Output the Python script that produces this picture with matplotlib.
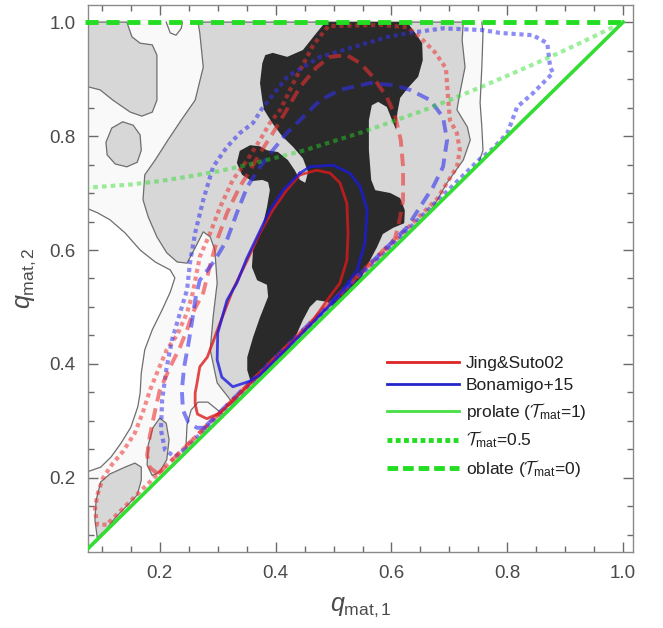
import matplotlib
matplotlib.use("Agg")
import matplotlib.pyplot as plt
from matplotlib.ticker import MultipleLocator, FixedLocator
from matplotlib.lines import Line2D

plt.rcParams['font.family'] = ['Liberation Sans', 'DejaVu Sans']
plt.rcParams['mathtext.fontset'] = 'custom'
plt.rcParams['mathtext.rm'] = 'Liberation Sans'
plt.rcParams['mathtext.it'] = 'Liberation Sans:italic'
plt.rcParams['mathtext.cal'] = 'cmsy10'

# ---------------- data (q_mat,1 , q_mat,2) ----------------
# region inside the outermost contour (near white)
outer_fill_q1 = [0.07, 0.756, 0.758, 0.756, 0.753, 0.756, 0.758, 0.752, 0.07, 0.07,
                 0.098, 0.116, 0.133, 0.150, 0.162, 0.166, 0.168, 0.174, 0.187, 0.204,
                 0.218, 0.226, 0.218, 0.192, 0.166, 0.140, 0.114, 0.093, 0.07]
outer_fill_q2 = [1.0, 1.0, 0.981, 0.921, 0.858, 0.816, 0.775, 0.757, 0.07, 0.209,
                 0.219, 0.237, 0.261, 0.289, 0.325, 0.349, 0.384, 0.425, 0.460, 0.495,
                 0.526, 0.551, 0.565, 0.579, 0.600, 0.630, 0.653, 0.665, 0.675]
outer_left_q1 = [0.07, 0.098, 0.116, 0.133, 0.150, 0.162, 0.166, 0.168, 0.174, 0.187, 0.204,
                 0.218, 0.226, 0.218, 0.192, 0.166, 0.140, 0.114, 0.093, 0.07]
outer_left_q2 = [0.209, 0.219, 0.237, 0.261, 0.289, 0.325, 0.349, 0.384, 0.425, 0.460, 0.495,
                 0.526, 0.551, 0.565, 0.579, 0.600, 0.630, 0.653, 0.665, 0.675]
outer_right_q1 = [0.756, 0.758, 0.756, 0.753, 0.756, 0.758, 0.752]
outer_right_q2 = [1.0, 0.981, 0.921, 0.858, 0.816, 0.775, 0.757]
notch_q1 = [0.211, 0.218, 0.228, 0.237, 0.239]
notch_q2 = [1.0, 0.981, 0.977, 0.989, 1.0]
lobe_q1 = [0.245, 0.247, 0.254, 0.266, 0.283, 0.300, 0.311]
lobe_q2 = [0.252, 0.293, 0.319, 0.333, 0.333, 0.319, 0.311]

# light grey regions
grey_main_q1 = [0.266, 0.724, 0.722, 0.727, 0.718, 0.713, 0.731, 0.736, 0.724, 0.696, 0.679,
                0.667, 0.340, 0.325, 0.318, 0.304, 0.299, 0.287, 0.292, 0.299, 0.295,
                0.287, 0.275, 0.261, 0.247, 0.230, 0.212, 0.195, 0.180, 0.171, 0.174,
                0.192, 0.214, 0.237, 0.261, 0.275, 0.269]
grey_main_q2 = [1.0, 1.0, 0.968, 0.921, 0.875, 0.846, 0.816, 0.793, 0.758, 0.718, 0.688,
                0.667, 0.340, 0.332, 0.342, 0.360, 0.367, 0.425, 0.482, 0.542, 0.600,
                0.623, 0.632, 0.604, 0.577, 0.579, 0.595, 0.623, 0.658, 0.688, 0.732,
                0.758, 0.793, 0.828, 0.863, 0.921, 0.981]
grey_tl_q1 = [0.07, 0.143, 0.152, 0.166, 0.187, 0.195, 0.195, 0.187, 0.169, 0.149, 0.119, 0.097, 0.07]
grey_tl_q2 = [1.0, 1.0, 0.974, 0.963, 0.960, 0.942, 0.863, 0.842, 0.835, 0.842, 0.863, 0.881, 0.888]
grey_oval_q1 = [0.136, 0.154, 0.166, 0.168, 0.161, 0.143, 0.123, 0.109, 0.107, 0.117]
grey_oval_q2 = [0.825, 0.819, 0.802, 0.775, 0.754, 0.746, 0.751, 0.767, 0.789, 0.814]
grey_bl_q1 = [0.092, 0.088, 0.090, 0.098, 0.114, 0.140, 0.157, 0.168, 0.168, 0.161, 0.145, 0.123, 0.107]
grey_bl_q2 = [0.095, 0.126, 0.161, 0.193, 0.207, 0.219, 0.226, 0.219, 0.196, 0.170, 0.153, 0.130, 0.109]
grey_small_q1 = [0.200, 0.211, 0.216, 0.212, 0.200, 0.187, 0.178, 0.180, 0.188]
grey_small_q2 = [0.305, 0.296, 0.267, 0.232, 0.211, 0.204, 0.223, 0.258, 0.288]

# dark (highest density) region
dark_q1 = [0.486, 0.627, 0.641, 0.653, 0.654, 0.646, 0.628, 0.615, 0.610, 0.608, 0.601, 0.592,
           0.577, 0.566, 0.561, 0.561, 0.565, 0.572, 0.598, 0.615, 0.623, 0.622, 0.603, 0.585,
           0.575, 0.563, 0.546, 0.520, 0.499, 0.489, 0.471, 0.459, 0.447, 0.437, 0.425, 0.402,
           0.385, 0.364, 0.356, 0.351, 0.351, 0.361, 0.373, 0.387, 0.385, 0.368, 0.359, 0.361,
           0.377, 0.385, 0.390, 0.387, 0.377, 0.359, 0.342, 0.333, 0.338, 0.356, 0.373, 0.385,
           0.404, 0.421, 0.433, 0.442, 0.451, 0.456, 0.447, 0.430, 0.411, 0.394, 0.380, 0.377,
           0.373, 0.377, 0.382, 0.395, 0.420, 0.447, 0.465, 0.477]
dark_q2 = [1.0, 1.0, 0.981, 0.963, 0.933, 0.904, 0.884, 0.867, 0.840, 0.811, 0.828, 0.851,
           0.860, 0.854, 0.828, 0.775, 0.723, 0.705, 0.700, 0.691, 0.670, 0.647, 0.639, 0.628,
           0.605, 0.582, 0.548, 0.522, 0.501, 0.509, 0.512, 0.500, 0.477, 0.454, 0.428, 0.407,
           0.389, 0.370, 0.372, 0.389, 0.412, 0.447, 0.482, 0.518, 0.539, 0.547, 0.570, 0.600,
           0.640, 0.675, 0.705, 0.719, 0.723, 0.721, 0.732, 0.753, 0.774, 0.784, 0.782, 0.775,
           0.772, 0.758, 0.740, 0.723, 0.718, 0.737, 0.761, 0.781, 0.800, 0.823, 0.846, 0.863,
           0.893, 0.928, 0.942, 0.946, 0.939, 0.951, 0.974, 0.989]

# Jing & Suto 2002 contours
js_solid_q1 = [0.442, 0.471, 0.494, 0.511, 0.523, 0.525, 0.523, 0.511, 0.489, 0.460, 0.400,
               0.330, 0.304, 0.281, 0.265, 0.261, 0.261, 0.264, 0.269, 0.282, 0.304, 0.326,
               0.351, 0.373, 0.395, 0.419, 0.442]
js_solid_q2 = [0.732, 0.740, 0.735, 0.718, 0.682, 0.630, 0.582, 0.542, 0.512, 0.470, 0.410,
               0.340, 0.314, 0.304, 0.312, 0.330, 0.349, 0.365, 0.395, 0.412, 0.472, 0.530,
               0.582, 0.630, 0.670, 0.705, 0.732]
js_dash_q1 = [0.197, 0.183, 0.178, 0.183, 0.192, 0.200, 0.218, 0.235, 0.247, 0.257, 0.275,
              0.287, 0.299, 0.316, 0.338, 0.356, 0.373, 0.395, 0.419, 0.442, 0.471, 0.494,
              0.523, 0.546, 0.568, 0.592, 0.606, 0.616, 0.620, 0.620, 0.615, 0.606, 0.205, 0.197]
js_dash_q2 = [0.207, 0.218, 0.240, 0.275, 0.319, 0.354, 0.395, 0.430, 0.460, 0.490, 0.525,
              0.574, 0.618, 0.665, 0.711, 0.740, 0.770, 0.805, 0.846, 0.886, 0.921, 0.939,
              0.942, 0.928, 0.904, 0.868, 0.837, 0.793, 0.746, 0.688, 0.658, 0.620, 0.215, 0.207]
js_dot_q1 = [0.108, 0.092, 0.088, 0.092, 0.102, 0.117, 0.136, 0.157, 0.171, 0.183, 0.197,
             0.212, 0.230, 0.247, 0.257, 0.269, 0.287, 0.304, 0.326, 0.351, 0.373, 0.390,
             0.408, 0.433, 0.465, 0.491, 0.580, 0.627, 0.649, 0.675, 0.694, 0.698, 0.701,
             0.713, 0.718, 0.713, 0.696, 0.679, 0.108]
js_dot_q2 = [0.118, 0.118, 0.144, 0.170, 0.200, 0.223, 0.246, 0.279, 0.316, 0.354, 0.389,
             0.425, 0.451, 0.490, 0.525, 0.588, 0.630, 0.675, 0.723, 0.758, 0.793, 0.823,
             0.846, 0.898, 0.960, 0.993, 0.995, 0.991, 0.974, 0.947, 0.919, 0.863, 0.828,
             0.805, 0.775, 0.746, 0.718, 0.690, 0.118]

# Bonamigo et al. 2015 contours
bo_solid_q1 = [0.442, 0.459, 0.499, 0.528, 0.546, 0.558, 0.554, 0.541, 0.516, 0.499, 0.440,
               0.380, 0.373, 0.356, 0.326, 0.307, 0.299, 0.300, 0.316, 0.333, 0.350, 0.368,
               0.390, 0.413, 0.442]
bo_solid_q2 = [0.735, 0.746, 0.749, 0.735, 0.711, 0.670, 0.612, 0.565, 0.530, 0.509, 0.448,
               0.388, 0.381, 0.370, 0.360, 0.377, 0.407, 0.454, 0.512, 0.542, 0.585, 0.623,
               0.670, 0.705, 0.735]
bo_dash_q1 = [0.281, 0.264, 0.249, 0.240, 0.238, 0.242, 0.249, 0.256, 0.261, 0.269, 0.295,
              0.316, 0.333, 0.351, 0.373, 0.395, 0.419, 0.447, 0.477, 0.511, 0.563, 0.606,
              0.632, 0.667, 0.689, 0.696, 0.689, 0.672, 0.649, 0.627, 0.281]
bo_dash_q2 = [0.288, 0.288, 0.298, 0.319, 0.354, 0.395, 0.433, 0.477, 0.512, 0.547, 0.582,
              0.618, 0.665, 0.711, 0.746, 0.775, 0.805, 0.833, 0.863, 0.881, 0.893, 0.889,
              0.881, 0.863, 0.833, 0.793, 0.746, 0.711, 0.675, 0.640, 0.293]
bo_dot_q1 = [0.243, 0.226, 0.209, 0.202, 0.204, 0.211, 0.221, 0.235, 0.247, 0.252, 0.261,
             0.275, 0.292, 0.316, 0.338, 0.361, 0.377, 0.420, 0.477, 0.534, 0.593, 0.632,
             0.689, 0.758, 0.787, 0.844, 0.869, 0.874, 0.879, 0.844, 0.817, 0.800, 0.775,
             0.753, 0.243]
bo_dot_q2 = [0.250, 0.237, 0.249, 0.284, 0.337, 0.389, 0.442, 0.490, 0.530, 0.577, 0.630,
             0.688, 0.746, 0.781, 0.805, 0.823, 0.849, 0.904, 0.939, 0.956, 0.974, 0.981,
             0.989, 0.986, 0.981, 0.977, 0.963, 0.921, 0.911, 0.875, 0.851, 0.805, 0.778,
             0.760, 0.250]

# shape reference lines
prolate_q1 = [0.07, 1.0]
prolate_q2 = [0.07, 1.0]
oblate_q1 = [0.07, 1.0]
oblate_q2 = [1.0, 1.0]
t05_q1 = [0.07, 0.15, 0.20, 0.25, 0.30, 0.35, 0.40, 0.45, 0.50, 0.55, 0.60, 0.65, 0.70,
          0.75, 0.80, 0.85, 0.90, 0.95, 1.00]
t05_q2 = [0.709, 0.715, 0.721, 0.729, 0.738, 0.749, 0.762, 0.775, 0.791, 0.807, 0.825,
          0.843, 0.863, 0.884, 0.906, 0.928, 0.951, 0.975, 1.000]

xticks = [0.2, 0.4, 0.6, 0.8, 1.0]
yticks = [0.2, 0.4, 0.6, 0.8, 1.0]
tick_labels = ['0.2', '0.4', '0.6', '0.8', '1.0']
legend_labels = ['Jing&Suto02', 'Bonamigo+15', r'prolate ($\mathcal{T}_{\rm mat}$=1)',
                 r'$\mathcal{T}_{\rm mat}$=0.5', r'oblate ($\mathcal{T}_{\rm mat}$=0)']

# ---------------- figure ----------------
fig = plt.figure(figsize=(6.63, 6.28), dpi=100)
ax = fig.add_axes([88 / 663, 76 / 628, 545 / 663, 547 / 628])
ax.set_xlim(0.076, 1.017)
ax.set_ylim(0.07, 1.03)

GREY_EDGE = '#6e6e6e'
ax.fill(outer_fill_q1, outer_fill_q2, color='#f9f9f9', lw=0, zorder=1)
for q1, q2 in [(grey_main_q1, grey_main_q2), (grey_tl_q1, grey_tl_q2),
               (grey_oval_q1, grey_oval_q2), (grey_bl_q1, grey_bl_q2),
               (grey_small_q1, grey_small_q2)]:
    ax.fill(q1, q2, facecolor='#d7d7d7', edgecolor=GREY_EDGE, lw=0.9, zorder=2)
for q1, q2 in [(outer_left_q1, outer_left_q2), (outer_right_q1, outer_right_q2),
               (notch_q1, notch_q2), (lobe_q1, lobe_q2)]:
    ax.plot(q1, q2, color=GREY_EDGE, lw=0.9, zorder=2)
ax.fill(dark_q1, dark_q2, color='#2a2a2a', lw=0, zorder=3)

RED = '#dd1a1a'
BLUE = '#1a1add'
PRED = '#ee3030'
PBLUE = '#3030ee'
ax.plot(js_dot_q1, js_dot_q2, color=PRED, alpha=0.55, lw=3.0, ls=(0, (1.0, 0.9)), zorder=4)
ax.plot(bo_dot_q1, bo_dot_q2, color=PBLUE, alpha=0.55, lw=3.0, ls=(0, (1.0, 0.9)), zorder=4)
ax.plot(js_dash_q1, js_dash_q2, color=PRED, alpha=0.6, lw=2.8, ls=(0, (3.2, 1.8)), zorder=4)
ax.plot(bo_dash_q1, bo_dash_q2, color=PBLUE, alpha=0.6, lw=2.8, ls=(0, (3.2, 1.8)), zorder=4)
ax.plot(js_solid_q1, js_solid_q2, color=RED, alpha=0.8, lw=2.0, zorder=4)
ax.plot(bo_solid_q1, bo_solid_q2, color=BLUE, alpha=0.8, lw=2.0, zorder=4)

GREEN = '#22dd22'
ax.plot(t05_q1, t05_q2, color=GREEN, alpha=0.45, lw=3.0, ls=(0, (1.1, 1.0)), zorder=5)
ax.plot(oblate_q1, oblate_q2, color=GREEN, lw=3.5, ls=(0, (2.7, 1.6)), zorder=6,
        clip_on=False)
ax.plot(prolate_q1, prolate_q2, color='#33dd33', lw=2.6, zorder=6)

# axes styling
for s in ax.spines.values():
    s.set_color('#8a8a8a')
    s.set_linewidth(1.0)
ax.xaxis.set_major_locator(FixedLocator(xticks))
ax.yaxis.set_major_locator(FixedLocator(yticks))
ax.set_xticklabels(tick_labels)
ax.set_yticklabels(tick_labels)
ax.xaxis.set_minor_locator(MultipleLocator(0.05))
ax.yaxis.set_minor_locator(MultipleLocator(0.05))
ax.tick_params(which='both', direction='in', top=True, right=True, color='#6a6a6a',
               labelsize=13.5, labelcolor='#4a4a4a', width=1.0)
ax.tick_params(which='major', length=7, pad=9)
ax.tick_params(which='minor', length=4)
ax.set_xlabel(r'$q_{\rm mat,1}$', fontsize=18, color='#4a4a4a', labelpad=10)
ax.set_ylabel(r'$q_{\rm mat,2}$', fontsize=18, color='#4a4a4a', labelpad=8)

handles = [Line2D([], [], color='#dd2525', lw=2.0),
           Line2D([], [], color='#2525cc', lw=2.0),
           Line2D([], [], color='#44e044', lw=2.0),
           Line2D([], [], color=GREEN, lw=3.5, ls=(0, (1.0, 0.7))),
           Line2D([], [], color=GREEN, lw=3.5, ls=(0, (2.2, 1.0)))]
leg = ax.legend(handles, legend_labels, loc='upper left', bbox_to_anchor=(0.535, 0.372),
                frameon=False, fontsize=12.5, handlelength=4.2, handletextpad=0.35,
                labelspacing=0.44, borderaxespad=0)
for t in leg.get_texts():
    t.set_color('#202020')

fig.savefig('out.png', dpi=100)
